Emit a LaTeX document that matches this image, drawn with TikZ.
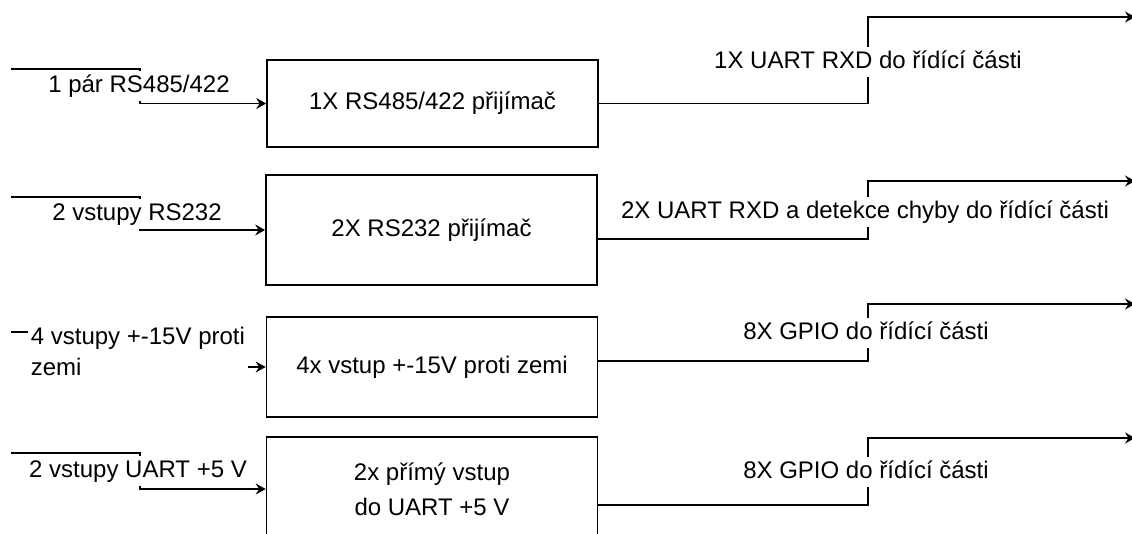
\documentclass[tikz,border=0pt]{standalone}
\usepackage{fontspec}
\setmainfont{Liberation Sans}
\usetikzlibrary{arrows.meta}
\begin{document}
\begin{tikzpicture}[x=1pt,y=-1pt,line width=1.7pt,
  every node/.style={font=\fontsize{24}{30}\selectfont},
  box/.style={draw,minimum width=331pt,inner sep=0pt,align=center},
  lbl/.style={fill=white,inner xsep=2pt,inner ysep=3pt,text height=18pt,text depth=6pt},
  lbltwo/.style={fill=white,inner xsep=3pt,inner ysep=4pt,align=left,font=\fontsize{24}{31}\selectfont},
  arr/.style={-{Stealth[length=10pt,width=11pt,inset=3.5pt]}}]
\useasboundingbox (0,0) rectangle (1132,533);
\clip (0,0) rectangle (1132,533);
% boxes
\node[box,minimum height=87pt]  (b1) at (432.5,103.5) {1X RS485/422 přijímač};
\node[box,minimum height=110pt] (b2) at (431.5,230) {2X RS232 přijímač};
\node[box,minimum height=100pt] (b3) at (432,367) {4x vstup +-15V proti zemi};
\node[box,minimum height=104pt,font=\fontsize{24}{35}\selectfont] (b4) at (432,489) {2x přímý vstup\\do UART +5 V};
% input ends
\coordinate (s1) at (11,69);
\coordinate (s2) at (11,197);
\coordinate (s3) at (11,332);
\coordinate (s4) at (11,453);
% output ends
\coordinate (t1) at (1135,17);
\coordinate (t2) at (1135,181);
\coordinate (t3) at (1135,304);
\coordinate (t4) at (1135,438);
% input connectors
\draw[arr] (s1) -| (140,103.5) -- (b1.west);
\draw[arr] (s2) -| (140,230) -- (b2.west);
\draw[arr] (s3) -| (140,367) -- (b3.west);
\draw[arr] (s4) -| (140,489) -- (b4.west);
% output connectors
\draw[arr] (b1.east) -| (868,17) -- (t1);
\draw[arr] ([yshift=-9pt]b2.east) -| (868,181) -- (t2);
\draw[arr] ([yshift=6pt]b3.east) -| (868,304) -- (t3);
\draw[arr] ([yshift=-16pt]b4.east) -| (868,438) -- (t4);
% input labels
\node[lbl] (l1) at (139,86) {1 pár RS485/422};
\node[lbl] (l2) at (137,214) {2 vstupy RS232};
\node[lbltwo,anchor=west] (l3) at (27,351) {4 vstupy +-15V proti\\zemi};
\node[lbl] (l4) at (138,471) {2 vstupy UART +5 V};
% output labels
\node[lbl] (m1) at (868,62) {1X UART RXD do řídící části};
\node[lbl] (m2) at (865,212) {2X UART RXD a detekce chyby do řídící části};
\node[lbl] (m3) at (866,333) {8X GPIO do řídící části};
\node[lbl] (m4) at (866,472) {8X GPIO do řídící části};
\end{tikzpicture}
\end{document}
